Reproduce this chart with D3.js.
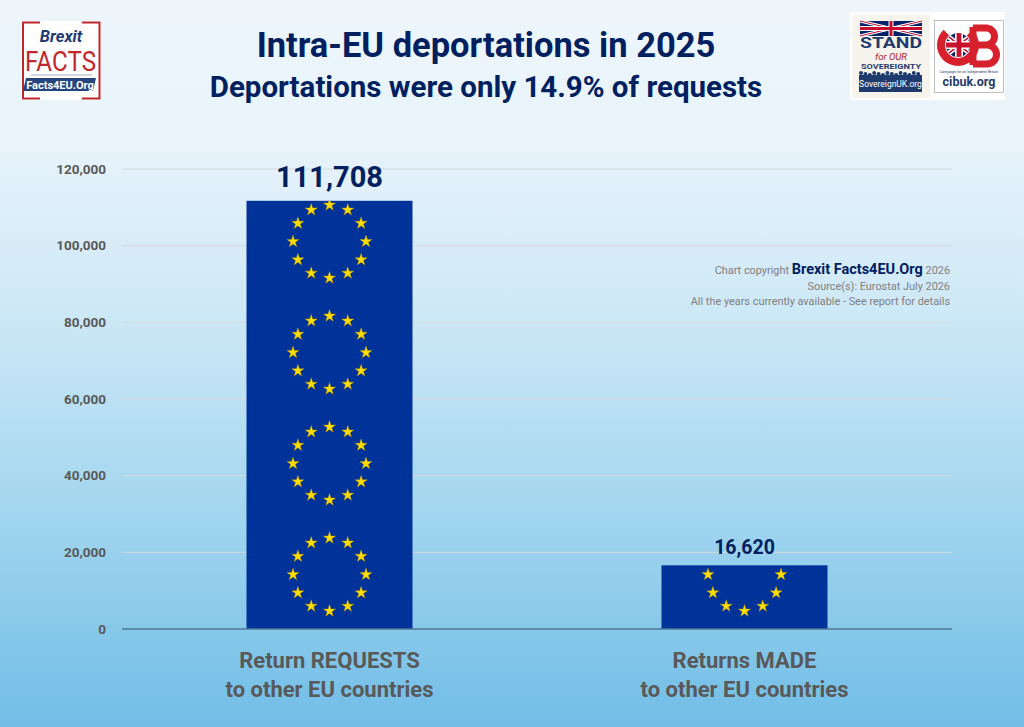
<!DOCTYPE html>
<html>
<head>
<meta charset="utf-8">
<script src="https://cdn.jsdelivr.net/npm/d3@7"></script>
<style>
  html, body { margin: 0; padding: 0; }
  body { width: 1024px; height: 727px; overflow: hidden; }
  text { font-family: Roboto, "Noto Sans", sans-serif; }
</style>
</head>
<body>
<svg id="chart" width="1024" height="727"></svg>
<script>
// data
const categories = ["Return REQUESTS\nto other EU countries", "Returns MADE\nto other EU countries"];
const values = [111708, 16620];
const valueLabels = ["111,708", "16,620"];
const tickValues = [0, 20000, 40000, 60000, 80000, 100000, 120000];
const tickLabels = ["0", "20,000", "40,000", "60,000", "80,000", "100,000", "120,000"];

const W = 1024, H = 727;
const plotLeft = 122, plotRight = 952, plotTop = 169, plotBottom = 629;
const navy = "#002060", grey = "#595959";

const svg = d3.select("#chart");
const defs = svg.append("defs");

// background gradient
const bg = defs.append("linearGradient").attr("id", "bg")
  .attr("x1", 0).attr("y1", 0).attr("x2", 0).attr("y2", 1);
[[0, "#eef6fc"], [0.2, "#e8f3fb"], [0.45, "#cbe7f6"], [0.7, "#a3d6ef"], [1, "#71bde6"]]
  .forEach(([o, c]) => bg.append("stop").attr("offset", o).attr("stop-color", c));
svg.append("rect").attr("width", W).attr("height", H).attr("fill", "url(#bg)");

// scales
const x = d3.scaleBand()
  .domain(categories)
  .range([plotLeft, plotRight])
  .paddingInner(0.6)
  .paddingOuter(0.3);

const y = d3.scaleLinear()
  .domain([0, 120000])
  .range([plotBottom, plotTop]);

// gridlines
svg.append("g")
  .selectAll("line")
  .data(tickValues.filter(d => d > 0))
  .join("line")
  .attr("x1", plotLeft).attr("x2", plotRight)
  .attr("y1", d => y(d)).attr("y2", d => y(d))
  .attr("stroke", "#d3d8dc").attr("stroke-width", 1);

// y axis labels
const yAxis = svg.append("g")
  .attr("transform", `translate(${plotLeft},0)`)
  .call(d3.axisLeft(y).tickValues(tickValues).tickFormat((d, i) => tickLabels[i]).tickSize(0).tickPadding(16));
yAxis.select(".domain").remove();
yAxis.selectAll("text")
  .attr("fill", grey)
  .attr("font-size", 13.5)
  .attr("font-weight", "bold")
  .attr("font-family", "Roboto, sans-serif");

// bars
const bars = svg.append("g").selectAll("g")
  .data(values)
  .join("g");

bars.append("rect")
  .attr("x", (d, i) => x(categories[i]))
  .attr("y", d => y(d))
  .attr("width", x.bandwidth())
  .attr("height", d => y(0) - y(d))
  .attr("fill", "#003399");

// EU star rings tiled up each bar, clipped to the bar
const star = d3.symbol().type(d3.symbolStar).size(46)();
const ringR = 36.5, ringStep = 111, ringBase = 54.5;
values.forEach((v, i) => {
  const cid = "clip" + i;
  defs.append("clipPath").attr("id", cid)
    .append("rect")
    .attr("x", x(categories[i]))
    .attr("y", y(v))
    .attr("width", x.bandwidth())
    .attr("height", y(0) - y(v));
  const cx = x(categories[i]) + x.bandwidth() / 2;
  const centres = [];
  for (let cy = y(0) - ringBase; cy + ringR + 8 > y(v); cy -= ringStep) centres.push(cy);
  const g = svg.append("g").attr("clip-path", `url(#${cid})`);
  centres.forEach(cy => {
    g.selectAll(null)
      .data(d3.range(12))
      .join("path")
      .attr("d", star)
      .attr("transform", k => {
        const a = -Math.PI / 2 + k * Math.PI / 6;
        return `translate(${cx + ringR * Math.cos(a)},${cy + ringR * Math.sin(a)})`;
      })
      .attr("fill", "#ffdd00")
      .attr("stroke", "#b89600")
      .attr("stroke-width", 0.4);
  });
});

// zero line
svg.append("line")
  .attr("x1", plotLeft).attr("x2", plotRight)
  .attr("y1", y(0)).attr("y2", y(0))
  .attr("stroke", "#4a7896").attr("stroke-width", 1.5);

// value labels
bars.append("text")
  .attr("x", (d, i) => x(categories[i]) + x.bandwidth() / 2)
  .attr("y", (d, i) => y(d) - (i === 0 ? 14 : 11))
  .attr("text-anchor", "middle")
  .attr("fill", navy)
  .attr("font-weight", "bold")
  .attr("font-size", (d, i) => i === 0 ? 29 : 19.5)
  .text((d, i) => valueLabels[i]);

// category labels
const catText = svg.append("g").selectAll("text")
  .data(categories)
  .join("text")
  .attr("x", d => x(d) + x.bandwidth() / 2)
  .attr("y", 668)
  .attr("text-anchor", "middle")
  .attr("fill", grey)
  .attr("font-weight", "bold")
  .attr("font-size", 22);
catText.each(function (d) {
  const t = d3.select(this);
  d.split("\n").forEach((line, j) => {
    t.append("tspan")
      .attr("x", t.attr("x"))
      .attr("dy", j === 0 ? 0 : 29)
      .text(line);
  });
});

// titles
svg.append("text")
  .attr("x", 486).attr("y", 57)
  .attr("text-anchor", "middle")
  .attr("fill", navy)
  .attr("font-weight", "bold")
  .attr("font-size", 34.5)
  .text("Intra-EU deportations in 2025");

svg.append("text")
  .attr("x", 486).attr("y", 97)
  .attr("text-anchor", "middle")
  .attr("fill", navy)
  .attr("font-weight", "bold")
  .attr("font-size", 29.5)
  .text("Deportations were only 14.9% of requests");

// copyright notes
const note = svg.append("g").attr("text-anchor", "end").attr("fill", "#7f7f7f").attr("font-size", 10.9);
const n1 = note.append("text").attr("x", 950).attr("y", 274);
n1.append("tspan").text("Chart copyright ");
n1.append("tspan").attr("fill", navy).attr("font-weight", "bold").attr("font-size", 14.5).text("Brexit Facts4EU.Org");
n1.append("tspan").text(" 2026");
note.append("text").attr("x", 950).attr("y", 290).text("Source(s): Eurostat July 2026");
note.append("text").attr("x", 950).attr("y", 305).text("All the years currently available - See report for details");

// Brexit Facts logo (top left)
const lg = svg.append("g");
lg.append("rect").attr("x", 21).attr("y", 21).attr("width", 80).attr("height", 79).attr("fill", "#fff");
lg.append("path")
  .attr("d", "M40,22.5 H23 V98.5 H40 M82,22.5 H99.5 V98.5 H82")
  .attr("fill", "none").attr("stroke", "#c0272d").attr("stroke-width", 2);
lg.append("text").attr("x", 61).attr("y", 42).attr("text-anchor", "middle")
  .attr("fill", "#1f3b73").attr("font-weight", "bold").attr("font-style", "italic").attr("font-size", 16.5).text("Brexit");
lg.append("text").attr("x", 25).attr("y", 71)
  .attr("fill", "#c0272d").attr("font-size", 28).attr("textLength", 71).attr("lengthAdjust", "spacingAndGlyphs").text("FACTS");
lg.append("line").attr("x1", 31).attr("x2", 92).attr("y1", 75).attr("y2", 75).attr("stroke", "#8aa0c0").attr("stroke-width", 0.8);
lg.append("path").attr("d", "M26,78 H96 L93,91 H23 Z").attr("fill", "#24457e");
lg.append("text").attr("x", 60).attr("y", 88.5).attr("text-anchor", "middle")
  .attr("fill", "#fff").attr("font-weight", "bold").attr("font-size", 11).text("Facts4EU.Org");

// union flag helper
function unionFlag(g, fx, fy, fw, fh) {
  const f = g.append("g").attr("transform", `translate(${fx},${fy})`);
  f.append("rect").attr("width", fw).attr("height", fh).attr("fill", "#012169");
  f.append("path").attr("d", `M0,0 L${fw},${fh} M${fw},0 L0,${fh}`).attr("stroke", "#fff").attr("stroke-width", fh / 5);
  f.append("path").attr("d", `M0,0 L${fw},${fh} M${fw},0 L0,${fh}`).attr("stroke", "#c8102e").attr("stroke-width", fh / 15);
  f.append("path").attr("d", `M${fw / 2},0 V${fh} M0,${fh / 2} H${fw}`).attr("stroke", "#fff").attr("stroke-width", fh / 3);
  f.append("path").attr("d", `M${fw / 2},0 V${fh} M0,${fh / 2} H${fw}`).attr("stroke", "#c8102e").attr("stroke-width", fh / 5);
  return f;
}

// partner logos (top right)
const rg = svg.append("g");
rg.append("rect").attr("x", 850).attr("y", 12).attr("width", 155).attr("height", 88).attr("fill", "#fff");
rg.append("rect").attr("x", 852).attr("y", 15).attr("width", 78).attr("height", 83).attr("fill", "#f7f4ee");
unionFlag(rg, 860, 21, 62, 15);
rg.append("text").attr("x", 891).attr("y", 48).attr("text-anchor", "middle")
  .attr("font-family", "Liberation Serif, serif").attr("fill", "#1f3b6e").attr("font-weight", "bold").attr("font-size", 14)
  .attr("textLength", 62).attr("lengthAdjust", "spacingAndGlyphs").text("STAND");
rg.append("text").attr("x", 891).attr("y", 59.5).attr("text-anchor", "middle")
  .attr("font-family", "Liberation Serif, serif").attr("fill", "#b0202a").attr("font-style", "italic").attr("font-size", 9.5).text("for OUR");
rg.append("text").attr("x", 891).attr("y", 68.5).attr("text-anchor", "middle")
  .attr("font-family", "Liberation Serif, serif").attr("fill", "#1f3b6e").attr("font-weight", "bold").attr("font-size", 7.5)
  .attr("textLength", 60).attr("lengthAdjust", "spacingAndGlyphs").text("SOVEREIGNTY");
rg.append("g").selectAll("circle")
  .data(d3.range(14))
  .join("circle")
  .attr("cx", k => 861 + k * 4.4).attr("cy", k => 73 + (k % 3))
  .attr("r", 2).attr("fill", "#1f3b6e");
rg.append("rect").attr("x", 859).attr("y", 75).attr("width", 63).attr("height", 17).attr("fill", "#1f3b6e");
rg.append("text").attr("x", 890.5).attr("y", 87).attr("text-anchor", "middle")
  .attr("fill", "#fff").attr("font-size", 8.5).text("SovereignUK.org");

rg.append("rect").attr("x", 934.5).attr("y", 20.5).attr("width", 69).attr("height", 72)
  .attr("fill", "#fff").attr("stroke", "#b0b0b0").attr("stroke-width", 0.8);
// C with flag roundel, then B, drawn as shapes
rg.append("path")
  .attr("d", d3.arc()({ innerRadius: 13, outerRadius: 21, startAngle: 0.75, endAngle: 2 * Math.PI - 0.75 }))
  .attr("transform", "translate(958,45)")
  .attr("fill", "#d6202c");
defs.append("clipPath").attr("id", "flagCircle").append("circle").attr("cx", 958).attr("cy", 45).attr("r", 12);
unionFlag(rg.append("g").attr("clip-path", "url(#flagCircle)"), 944, 33, 30, 24);
rg.append("path")
  .attr("d", "M973,27 V65 M973,28 H986 A8.5 8.5 0 0 1 986,45 H973 M973,45 H987 A9.5 9.5 0 0 1 987,64 H973")
  .attr("fill", "none").attr("stroke", "#d6202c").attr("stroke-width", 7);
rg.append("text").attr("x", 969).attr("y", 73).attr("text-anchor", "middle")
  .attr("fill", "#1f3b6e").attr("font-size", 3.6).text("Campaign for an Independent Britain");
rg.append("text").attr("x", 969).attr("y", 86).attr("text-anchor", "middle")
  .attr("fill", "#1f3b6e").attr("font-weight", "bold").attr("font-size", 12.5).text("cibuk.org");
</script>
</body>
</html>
